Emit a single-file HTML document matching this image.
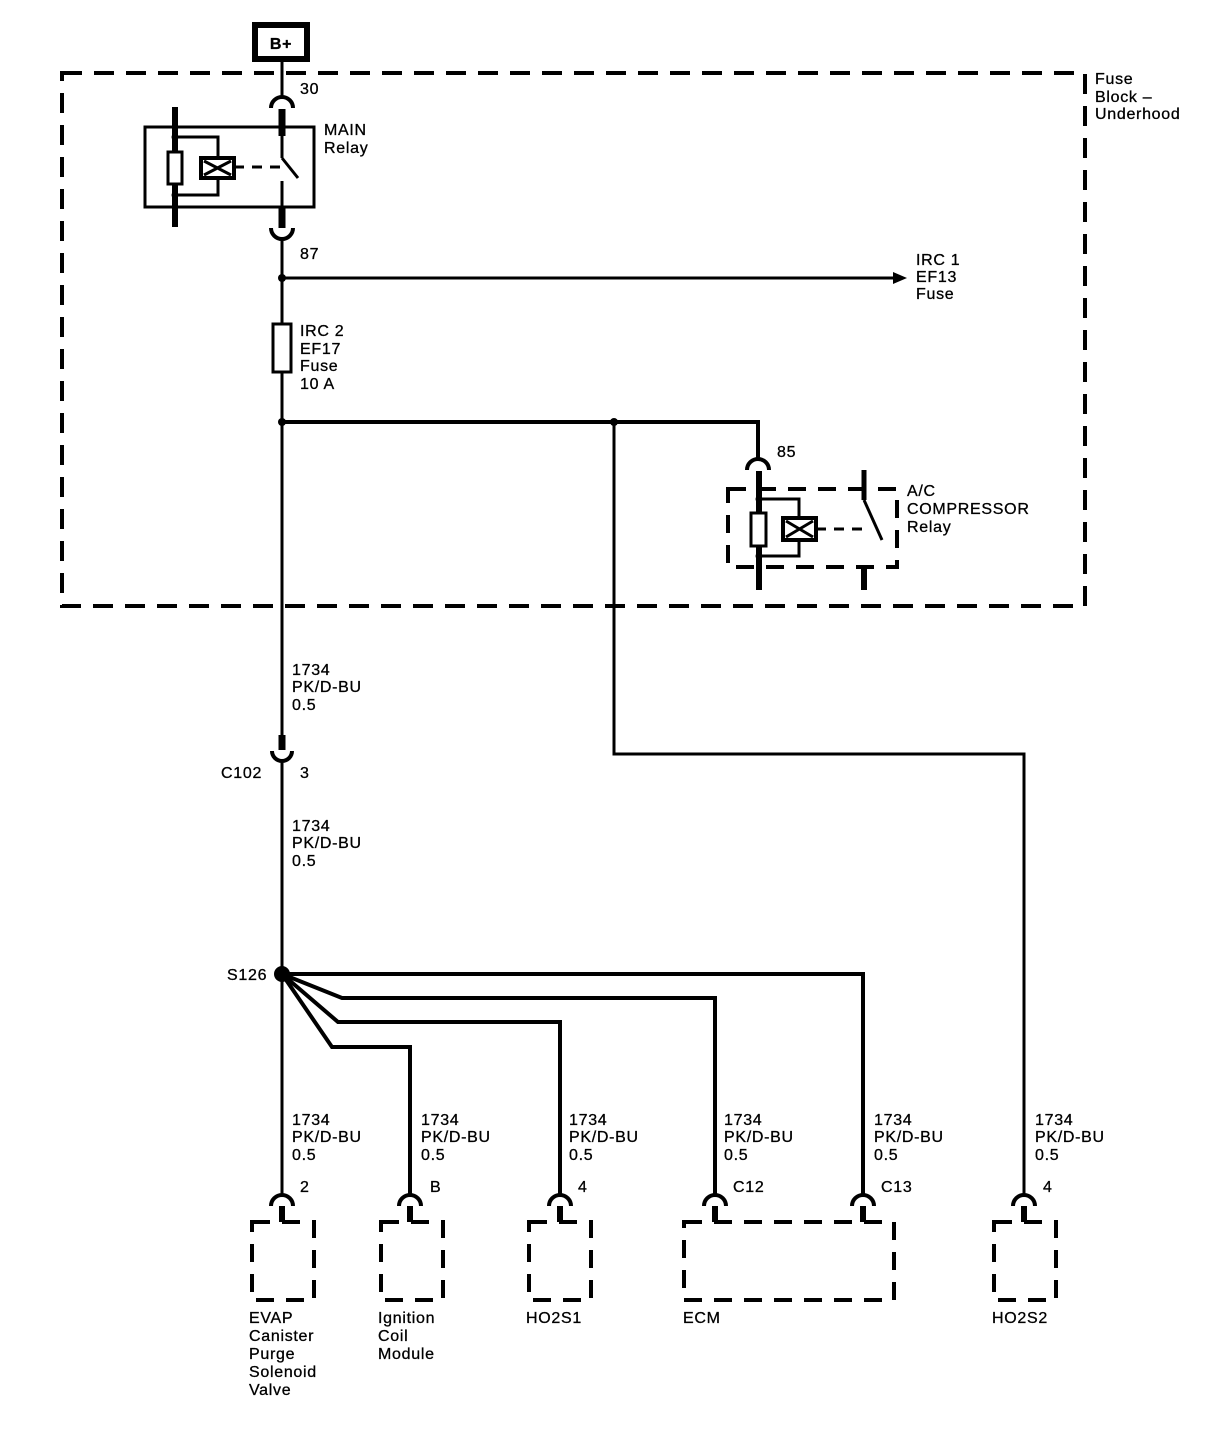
<!DOCTYPE html>
<html><head><meta charset="utf-8"><style>
html,body{margin:0;padding:0;background:#fff}
svg{display:block}
text{font-family:"Liberation Sans",sans-serif;font-size:16px;letter-spacing:0.7px;fill:#000;stroke:#000;stroke-width:0.3px}
</style></head><body>
<svg width="1210" height="1440" viewBox="0 0 1210 1440" xmlns="http://www.w3.org/2000/svg">
<g fill="none" stroke="#000">
<rect x="255" y="25" width="52" height="34" stroke-width="6"/>
<rect x="62" y="73" width="1023" height="533" stroke-width="4" stroke-dasharray="20 12"/>
<line x1="282" y1="62" x2="282" y2="97" stroke-width="3"/>
<path d="M271,108 A11,11 0 0 1 293,108" stroke-width="4"/>
<line x1="282" y1="109" x2="282" y2="136" stroke-width="7"/>
<rect x="145" y="127" width="169" height="80" stroke-width="3"/>
<line x1="175" y1="107" x2="175" y2="227" stroke-width="6"/>
<rect x="168" y="152" width="14" height="32" stroke-width="3" fill="#fff"/>
<polyline points="175,137 218,137 218,158" stroke-width="3"/>
<polyline points="175,195 218,195 218,178" stroke-width="3"/>
<circle cx="175" cy="137" r="3" fill="#000"/>
<circle cx="175" cy="195" r="3" fill="#000"/>
<rect x="201" y="158" width="33" height="20" stroke-width="4" fill="#fff"/>
<path d="M204,161 L231,175 M204,175 L231,161" stroke-width="3"/>
<line x1="234" y1="167" x2="280" y2="167" stroke-width="3" stroke-dasharray="10 8"/>
<line x1="282" y1="127" x2="282" y2="158" stroke-width="3"/>
<line x1="282" y1="158" x2="298" y2="178" stroke-width="3"/>
<line x1="282" y1="181" x2="282" y2="228" stroke-width="3"/>
<line x1="282" y1="208" x2="282" y2="228" stroke-width="7"/>
<path d="M271,228 A11,11 0 0 0 293,228" stroke-width="4"/>
<line x1="282" y1="239" x2="282" y2="324" stroke-width="3"/>
<line x1="282" y1="278" x2="895" y2="278" stroke-width="3"/>
<polygon points="893,272 907,278 893,284" fill="#000" stroke="none"/>
<circle cx="282" cy="278" r="4" fill="#000" stroke="none"/>
<rect x="273" y="324" width="18" height="48" stroke-width="3"/>
<line x1="282" y1="372" x2="282" y2="735" stroke-width="3"/>
<polyline points="282,422 758,422 758,460" stroke-width="4"/>
<circle cx="282" cy="422" r="4" fill="#000" stroke="none"/>
<circle cx="614" cy="422" r="4" fill="#000" stroke="none"/>
<polyline points="614,422 614,754 1024,754 1024,1194" stroke-width="3"/>
<path d="M747,470 A11,11 0 0 1 769,470" stroke-width="4"/>
<line x1="759" y1="471" x2="759" y2="590" stroke-width="6"/>
<rect x="728" y="489" width="169" height="78" stroke-width="4" stroke-dasharray="18 12"/>
<rect x="751" y="513" width="15" height="33" stroke-width="3" fill="#fff"/>
<polyline points="759,499 799,499 799,518" stroke-width="3"/>
<polyline points="759,556 799,556 799,540" stroke-width="3"/>
<circle cx="759" cy="499" r="3.5" fill="#000" stroke="none"/>
<circle cx="759" cy="556" r="3.5" fill="#000" stroke="none"/>
<rect x="783" y="518" width="33" height="22" stroke-width="4" fill="#fff"/>
<path d="M786,521 L813,537 M786,537 L813,521" stroke-width="3"/>
<line x1="816" y1="529" x2="862" y2="529" stroke-width="3" stroke-dasharray="10 8"/>
<line x1="864" y1="470" x2="864" y2="500" stroke-width="5"/>
<line x1="864" y1="500" x2="882" y2="540" stroke-width="3"/>
<line x1="864" y1="566" x2="864" y2="590" stroke-width="6"/>
<line x1="282" y1="735" x2="282" y2="750" stroke-width="7"/>
<path d="M272,751 A10,10 0 0 0 292,751" stroke-width="4"/>
<line x1="282" y1="761" x2="282" y2="1194" stroke-width="3"/>
<circle cx="282" cy="974" r="8" fill="#000" stroke="none"/>
<polyline points="282,974 863,974 863,1194" stroke-width="4"/>
<polyline points="282,974 342,998 715,998 715,1194" stroke-width="4"/>
<polyline points="282,974 338,1022 560,1022 560,1194" stroke-width="4"/>
<polyline points="282,974 332,1047 410,1047 410,1194" stroke-width="4"/>
<g stroke-width="4">
<path d="M271,1206 A11,11 0 0 1 293,1206"/>
<path d="M399,1206 A11,11 0 0 1 421,1206"/>
<path d="M549,1206 A11,11 0 0 1 571,1206"/>
<path d="M704,1206 A11,11 0 0 1 726,1206"/>
<path d="M852,1206 A11,11 0 0 1 874,1206"/>
<path d="M1013,1206 A11,11 0 0 1 1035,1206"/>
</g>
<g stroke-width="6">
<line x1="282" y1="1206" x2="282" y2="1222"/>
<line x1="410" y1="1206" x2="410" y2="1222"/>
<line x1="560" y1="1206" x2="560" y2="1222"/>
<line x1="715" y1="1206" x2="715" y2="1222"/>
<line x1="863" y1="1206" x2="863" y2="1222"/>
<line x1="1024" y1="1206" x2="1024" y2="1222"/>
</g>
<g stroke-width="4" stroke-dasharray="18 12">
<rect x="252" y="1222" width="62" height="78"/>
<rect x="381" y="1222" width="62" height="78"/>
<rect x="529" y="1222" width="62" height="78"/>
<rect x="684" y="1222" width="210" height="78"/>
<rect x="994" y="1222" width="62" height="78"/>
</g>
</g>
<text x="281" y="49" text-anchor="middle" font-weight="bold">B+</text>
<text x="300" y="94">30</text>
<text x="324" y="135">MAIN</text><text x="324" y="153">Relay</text>
<text x="300" y="259">87</text>
<text x="1095" y="84">Fuse</text><text x="1095" y="102">Block –</text><text x="1095" y="119">Underhood</text>
<text x="916" y="265">IRC 1</text><text x="916" y="282">EF13</text><text x="916" y="299">Fuse</text>
<text x="300" y="336">IRC 2</text><text x="300" y="354">EF17</text><text x="300" y="371">Fuse</text><text x="300" y="389">10 A</text>
<text x="777" y="457">85</text>
<text x="907" y="496">A/C</text><text x="907" y="514">COMPRESSOR</text><text x="907" y="532">Relay</text>
<text x="292" y="675">1734</text><text x="292" y="692">PK/D-BU</text><text x="292" y="710">0.5</text>
<text x="221" y="778">C102</text><text x="300" y="778">3</text>
<text x="292" y="831">1734</text><text x="292" y="848">PK/D-BU</text><text x="292" y="866">0.5</text>
<text x="227" y="980">S126</text>
<text x="292" y="1125">1734</text><text x="292" y="1142">PK/D-BU</text><text x="292" y="1160">0.5</text>
<text x="421" y="1125">1734</text><text x="421" y="1142">PK/D-BU</text><text x="421" y="1160">0.5</text>
<text x="569" y="1125">1734</text><text x="569" y="1142">PK/D-BU</text><text x="569" y="1160">0.5</text>
<text x="724" y="1125">1734</text><text x="724" y="1142">PK/D-BU</text><text x="724" y="1160">0.5</text>
<text x="874" y="1125">1734</text><text x="874" y="1142">PK/D-BU</text><text x="874" y="1160">0.5</text>
<text x="1035" y="1125">1734</text><text x="1035" y="1142">PK/D-BU</text><text x="1035" y="1160">0.5</text>
<text x="300" y="1192">2</text><text x="430" y="1192">B</text><text x="578" y="1192">4</text>
<text x="733" y="1192">C12</text><text x="881" y="1192">C13</text><text x="1043" y="1192">4</text>
<text x="249" y="1323">EVAP</text><text x="249" y="1341">Canister</text><text x="249" y="1359">Purge</text><text x="249" y="1377">Solenoid</text><text x="249" y="1395">Valve</text>
<text x="378" y="1323">Ignition</text><text x="378" y="1341">Coil</text><text x="378" y="1359">Module</text>
<text x="526" y="1323">HO2S1</text>
<text x="683" y="1323">ECM</text>
<text x="992" y="1323">HO2S2</text>
</svg>
</body></html>
